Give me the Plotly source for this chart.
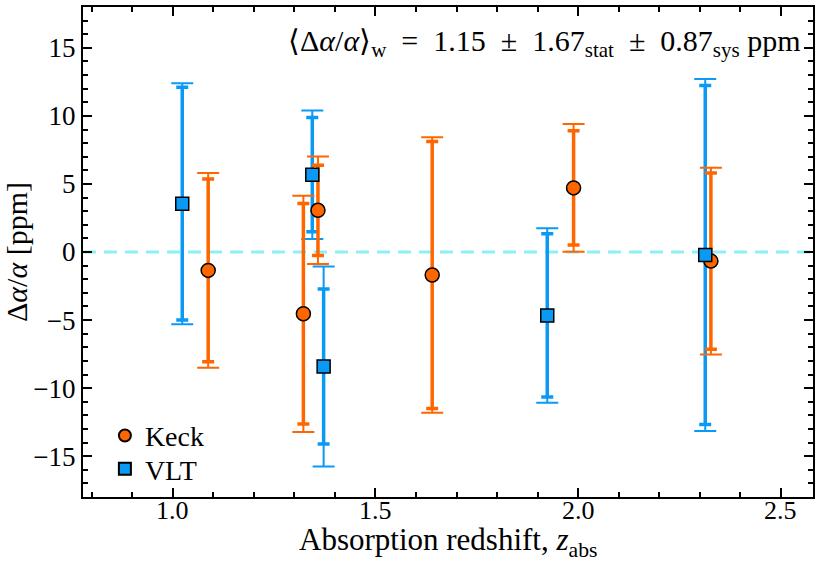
import plotly.graph_objects as go

# Keck data
keck_z = [1.087, 1.322, 1.358, 1.640, 1.989, 2.328]
keck_da = [-1.35, -4.54, 3.06, -1.69, 4.71, -0.67]
keck_stat = [6.72, 8.10, 3.32, 9.81, 4.20, 6.47]
keck_tot = [7.16, 8.68, 3.95, 10.12, 4.70, 6.86]

# VLT data
vlt_z = [1.023, 1.344, 1.372, 1.924, 2.314]
vlt_da = [3.55, 5.68, -8.41, -4.66, -0.22]
vlt_stat = [8.55, 4.20, 5.70, 6.00, 12.45]
vlt_tot = [8.85, 4.72, 7.35, 6.41, 12.93]

# tick labels
x_ticks = [1.0, 1.5, 2.0, 2.5]
x_ticktext = ["1.0", "1.5", "2.0", "2.5"]
y_ticks = [-15, -10, -5, 0, 5, 10, 15]
y_ticktext = ["−15", "−10", "−5", "0", "5", "10", "15"]

ORANGE = "#ff6600"
BLUE = "#0a9af5"
FONT = "Liberation Serif, Times New Roman, serif"

fig = go.Figure()

def err_trace(x, y, e, color, width, thick):
    return go.Scatter(
        x=x, y=y, mode="markers",
        marker=dict(size=1, opacity=0, color=color),
        error_y=dict(type="data", array=e, symmetric=True, color=color,
                     width=width, thickness=thick),
        showlegend=False, hoverinfo="skip")

# error bars (total then stat)
fig.add_trace(err_trace(vlt_z, vlt_da, vlt_tot, BLUE, 11, 2))
fig.add_trace(err_trace(vlt_z, vlt_da, vlt_stat, BLUE, 6, 3.5))
fig.add_trace(err_trace(keck_z, keck_da, keck_tot, ORANGE, 11, 2))
fig.add_trace(err_trace(keck_z, keck_da, keck_stat, ORANGE, 6, 3.5))

# markers
fig.add_trace(go.Scatter(
    x=keck_z, y=keck_da, mode="markers", name="Keck", legend="legend",
    marker=dict(symbol="circle", size=14, color=ORANGE,
                line=dict(color="black", width=1.5))))
fig.add_trace(go.Scatter(
    x=vlt_z, y=vlt_da, mode="markers", name="VLT", legend="legend2",
    marker=dict(symbol="square", size=13, color=BLUE,
                line=dict(color="black", width=1.5))))

# zero line
fig.add_hline(y=0, line=dict(color="#8cf0f5", width=3, dash="13px,8px"), layer="below")

fig.add_annotation(
    text="⟨Δ<i>α</i>/<i>α</i>⟩<sub>w</sub>&#8194;=&#8194;1.15&#8194;±&#8194;1.67<sub>stat</sub>&#8194;±&#8194;0.87<sub>sys</sub> ppm",
    xref="paper", yref="paper", x=0.986, y=0.927, xanchor="right", yanchor="middle",
    showarrow=False, font=dict(family=FONT, size=30, color="black"))

# x tick labels placed at the axis tick positions
for xv, xt in zip(x_ticks, x_ticktext):
    fig.add_annotation(text=xt, x=xv, xref="x", y=-0.028, yref="paper",
                       xanchor="center", yanchor="middle", showarrow=False,
                       font=dict(family=FONT, size=26, color="black"))

# x axis title
fig.add_annotation(text="Absorption redshift, <i>z</i><sub>abs</sub>",
                   x=0.5, xref="paper", y=-0.091, yref="paper",
                   xanchor="center", yanchor="middle", showarrow=False,
                   font=dict(family=FONT, size=31, color="black"))

axis_common = dict(
    showline=True, linecolor="black", linewidth=2, mirror="allticks",
    ticks="inside", ticklen=9, tickwidth=2, tickcolor="black",
    showgrid=False, zeroline=False, automargin=False,
    tickfont=dict(family=FONT, size=27, color="black"),
)

fig.update_xaxes(
    range=[0.778, 2.58], tickvals=x_ticks, ticktext=x_ticktext, showticklabels=False,
    minor=dict(dtick=0.1, tick0=0, ticks="inside", ticklen=5, tickwidth=1.5, tickcolor="black"),
    **axis_common)
fig.update_yaxes(
    range=[-18, 18], tickvals=y_ticks, ticktext=y_ticktext,
    minor=dict(dtick=1, tick0=0, ticks="inside", ticklen=5, tickwidth=1.5, tickcolor="black"),
    title=dict(text="Δ<i>α</i>/<i>α</i> [ppm]",
               font=dict(family=FONT, size=30, color="black")),
    **axis_common)

leg_common = dict(xanchor="left", yanchor="bottom", bgcolor="rgba(0,0,0,0)",
                  font=dict(family=FONT, size=28, color="black"), itemsizing="constant")

fig.update_layout(
    width=822, height=564,
    margin=dict(l=83, r=9, t=7, b=67),
    paper_bgcolor="white", plot_bgcolor="white",
    font=dict(family=FONT, color="black"),
    legend=dict(x=0.03, y=0.074, **leg_common),
    legend2=dict(x=0.03, y=0.006, **leg_common),
)

fig.write_html("out.html", config={"displayModeBar": False},
               post_script="document.body.style.margin='0px';")
